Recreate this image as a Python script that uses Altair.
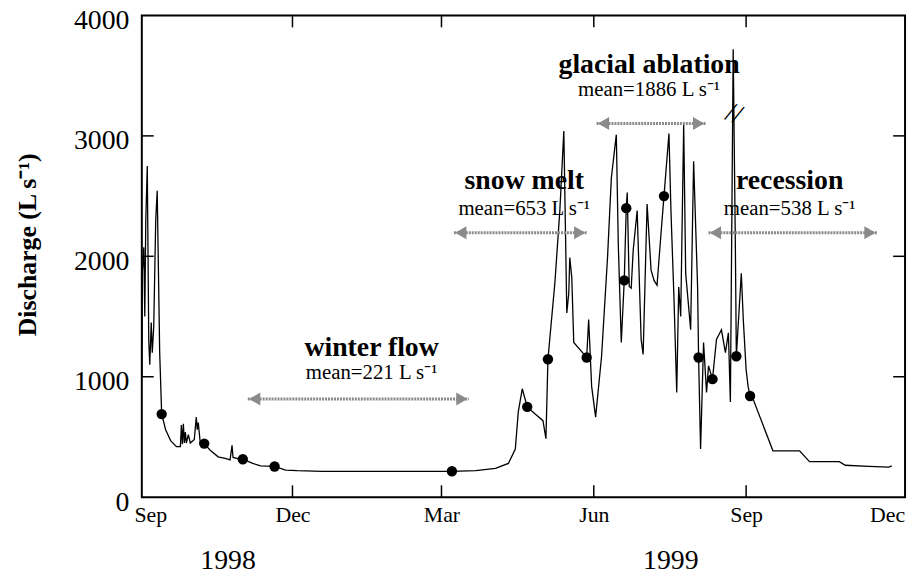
import altair as alt
import pandas as pd

BASE = pd.Timestamp("1998-09-01")

# Discharge trace: days since 1 Sep 1998 and discharge (L s-1)
line_day = [0.0, 0.3, 1.2, 1.8, 2.4, 3.3, 4.2, 4.8, 5.7, 6.3, 7.2, 8.4, 9.3, 9.9, 10.8,
            12.0, 14.4, 17.4, 20.9, 23.3, 23.9, 24.5, 25.1, 25.7, 26.3, 26.9, 28.1, 29.3,
            31.7, 32.9, 33.5, 34.1, 35.3, 37.7, 41.3, 46.1, 50.9, 53.3, 54.5, 55.1, 58.0,
            61.0, 67.0, 71.8, 80.2, 86.8, 93.9, 108.9, 187.3, 201.7, 213.6, 221.4, 225.6,
            227.4, 229.8, 232.8, 237.6, 242.3, 244.1, 245.3, 249.5, 252.5, 254.9, 256.7,
            257.9, 258.5, 259.7, 260.9, 268.7, 269.9, 271.7, 274.1, 277.7, 281.3, 283.6,
            286.6, 287.8, 289.6, 291.4, 292.6, 293.2, 294.4, 295.6, 296.8, 299.2, 301.6,
            302.8, 305.2, 307.6, 309.4, 311.2, 313.6, 315.4, 318.4, 319.6, 321.4, 323.1,
            324.3, 325.5, 327.3, 328.5, 331.5, 333.3, 335.7, 336.3, 337.5, 339.3, 341.1,
            342.3, 344.7, 347.1, 350.1, 352.5, 354.3, 355.5, 357.2, 358.5, 359.1, 362.1,
            363.3, 365.0, 366.2, 367.4, 369.2, 381.2, 397.3, 403.3, 421.3, 424.9, 439.2,
            451.2, 453.0]
line_q = [1000, 1870, 2075, 1500, 2300, 2750, 1300, 1100, 1450, 1200, 1415, 2300, 2545, 2000, 1200,
          690, 560, 470, 420, 420, 600, 440, 610, 450, 540, 450, 520, 450,
          480, 665, 560, 620, 450, 445, 390, 335, 320, 310, 430, 330, 320,
          315, 280, 260, 255, 225, 220, 215, 215, 220, 240, 280, 400,
          710, 900, 750, 690, 635, 485, 1145, 1780, 2380, 3040, 1530,
          1695, 1990, 1825, 1285, 1160, 1475, 920, 665, 1170, 1990, 2650,
          3010, 2100, 1285, 1800, 2400, 2530, 1750, 1735, 2050, 2380, 1310,
          1185, 2435, 1885, 1800, 1760, 2190, 2500, 3020, 2380, 1665, 870,
          1745, 1500, 3095, 1860, 1390, 2790, 1745, 1160, 400, 1285, 870,
          1090, 980, 1310, 1390, 1200, 1365, 790, 3720, 2100, 1170, 1860,
          1475, 1060, 920, 840, 815, 385, 385, 295, 295, 265, 255,
          250, 260]

# Sampling points (filled circles)
dot_day = [12.0, 37.7, 61.0, 80.2, 187.3, 232.8, 245.3, 268.7, 291.4, 292.6, 315.4, 336.3, 344.7, 359.1, 367.4]
dot_q = [690, 445, 315, 255, 215, 750, 1145, 1160, 1800, 2400, 2500, 1160, 980, 1170, 840]

# Hydrological periods
period_name = ["winter flow", "snow melt", "glacial ablation", "recession"]
period_mean = ["mean=221 L s\u207b\u00b9", "mean=653 L s\u207b\u00b9", "mean=1886 L s\u207b\u00b9", "mean=538 L s\u207b\u00b9"]
label_day = [138.8, 231.0, 306.4, 391.3]
name_q = [1170, 2560, 3525, 2560]
mean_q = [979, 2345, 3335, 2345]
arrow_start = [64.0, 188.5, 274.7, 342.3]
arrow_end = [197.5, 268.7, 340.5, 444.0]
arrow_q = [815, 2195, 3103, 2195]

# Year labels under the axis
year_text = ["1998", "1999"]
year_day = [52.1, 319.5]
year_q = [-593, -593]

# Axis break on the tallest peak
break_day = [357.6]
break_q = [3180]

tick_months = ["1998-09-01", "1998-12-01", "1999-03-01", "1999-06-01", "1999-09-01", "1999-12-01"]
inner_tick_months = ["1998-12-01", "1999-03-01", "1999-06-01", "1999-09-01"]
y_ticks = [0, 1000, 2000, 3000, 4000]
inner_y_ticks = [1000, 2000, 3000]


def to_dates(days):
    return [BASE + pd.to_timedelta(d, unit="D") for d in days]


def dt(s):
    t = pd.Timestamp(s)
    return alt.DateTime(year=t.year, month=t.month, date=t.day)


line_df = pd.DataFrame({"date": to_dates(line_day), "q": line_q})
dot_df = pd.DataFrame({"date": to_dates(dot_day), "q": dot_q})
name_df = pd.DataFrame({"date": to_dates(label_day), "q": name_q, "t": period_name})
mean_df = pd.DataFrame({"date": to_dates(label_day), "q": mean_q, "t": period_mean})
arrow_df = pd.DataFrame({"date": to_dates(arrow_start), "end": to_dates(arrow_end), "q": arrow_q})
ahead_l = pd.DataFrame({"date": to_dates(arrow_start), "q": arrow_q})
ahead_r = pd.DataFrame({"date": to_dates(arrow_end), "q": arrow_q})
year_df = pd.DataFrame({"date": to_dates(year_day), "q": year_q, "t": year_text})
break_df = pd.DataFrame({"date": to_dates(break_day), "q": break_q, "t": ["//"]})
xt_df = pd.DataFrame({"date": [pd.Timestamp(s) for s in inner_tick_months]})
yt_df = pd.DataFrame({"q": inner_y_ticks})

W, H = 770, 486
FONT = "Liberation Serif"
GRAY = "#8a8a8a"

x_scale = alt.Scale(domain=[dt("1998-09-01"), dt("1999-12-06")], nice=False)
y_scale = alt.Scale(domain=[0, 4000], nice=False)

X = alt.X("date:T", scale=x_scale,
          axis=alt.Axis(values=[dt(s) for s in tick_months], format="%b", title=None,
                        ticks=False, domain=False, grid=False, labelFlush=12, labelFlushOffset=8,
                        labelFont=FONT, labelFontSize=22, labelColor="black", labelPadding=8))
Y = alt.Y("q:Q", scale=y_scale,
          axis=alt.Axis(values=y_ticks, format="d", title="Discharge (L s\u207b\u00b9)", ticks=False,
                        domain=False, grid=False, labelFont=FONT, labelFontSize=28, labelColor="black",
                        labelPadding=13, labelOffset=5, titleFont=FONT, titleFontSize=26,
                        titleFontWeight="bold", titleColor="black", titleX=-115, titleY=231,
                        titleAngle=270, titleBaseline="middle", titleAlign="center"))
XP = alt.X("date:T", scale=x_scale)
YP = alt.Y("q:Q", scale=y_scale)

line = alt.Chart(line_df).mark_line(color="black", strokeWidth=1.3).encode(x=X, y=Y)
dots = alt.Chart(dot_df).mark_circle(color="black", size=110, opacity=1).encode(x=XP, y=YP)

arrows = alt.Chart(arrow_df).mark_rule(color=GRAY, strokeWidth=3, strokeDash=[2, 1]).encode(
    x=XP, x2="end:T", y=YP)
heads_l = alt.Chart(ahead_l).mark_point(shape="triangle-left", filled=True, size=170, color=GRAY,
                                         opacity=1, xOffset=7).encode(x=XP, y=YP)
heads_r = alt.Chart(ahead_r).mark_point(shape="triangle-right", filled=True, size=170, color=GRAY,
                                         opacity=1, xOffset=-7).encode(x=XP, y=YP)

names = alt.Chart(name_df).mark_text(font=FONT, fontSize=28, fontWeight="bold", color="black",
                                     baseline="alphabetic", align="center").encode(
    x=XP, y=YP, text="t:N")
means = alt.Chart(mean_df).mark_text(font=FONT, fontSize=21, color="black",
                                     baseline="alphabetic", align="center").encode(
    x=XP, y=YP, text="t:N")
years = alt.Chart(year_df).mark_text(font=FONT, fontSize=28, color="black",
                                     baseline="alphabetic", align="center").encode(
    x=XP, y=YP, text="t:N")
brk = alt.Chart(break_df).mark_text(font=FONT, fontSize=28, color="black", angle=20,
                                    baseline="middle", align="center").encode(
    x=XP, y=YP, text="t:N")

xt_bottom = alt.Chart(xt_df).mark_rule(color="black", strokeWidth=1.5).encode(
    x=XP, y=alt.value(H), y2=alt.value(H - 12))
xt_top = alt.Chart(xt_df).mark_rule(color="black", strokeWidth=1.5).encode(
    x=XP, y=alt.value(0), y2=alt.value(12))
yt_left = alt.Chart(yt_df).mark_rule(color="black", strokeWidth=1.5).encode(
    y=YP, x=alt.value(0), x2=alt.value(12))
yt_right = alt.Chart(yt_df).mark_rule(color="black", strokeWidth=1.5).encode(
    y=YP, x=alt.value(W), x2=alt.value(W - 12))

chart = alt.layer(
    line, xt_bottom, xt_top, yt_left, yt_right, arrows, heads_l, heads_r,
    dots, names, means, years, brk
).properties(
    width=W, height=H,
    autosize=alt.AutoSizeParams(type="none"),
    padding={"left": 135, "top": 5, "right": 5, "bottom": 76},
    background="white",
).configure_view(stroke="black", strokeWidth=2)

chart.save("out.html", embed_options={"renderer": "svg", "actions": False})
